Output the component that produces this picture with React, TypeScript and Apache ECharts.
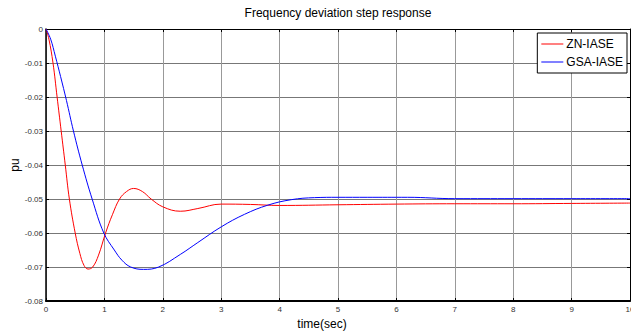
import React, { useEffect, useRef } from "react";
import * as echarts from "echarts";

const titleText = "Frequency deviation step response";
const xName = "time(sec)";
const yName = "pu";
const seriesNames = ["ZN-IASE", "GSA-IASE"];

const xTickLabels = ["0", "1", "2", "3", "4", "5", "6", "7", "8", "9", "10"];
const yTickLabels = ["0", "-0.01", "-0.02", "-0.03", "-0.04", "-0.05", "-0.06", "-0.07", "-0.08"];

const timeZN = [0, 0.05, 0.12, 0.19, 0.26, 0.33, 0.4, 0.5, 0.58, 0.65, 0.72, 0.8, 0.9, 1.02, 1.14, 1.26, 1.38, 1.5, 1.65, 1.8, 2.0, 2.3, 2.6, 3.0, 3.5, 4.0, 5.0, 6.0, 7.0, 8.0, 9.0, 10.0];
const valZN = [0, -0.003, -0.01, -0.02, -0.03, -0.04, -0.05, -0.06, -0.066, -0.0695, -0.0706, -0.07, -0.0665, -0.06, -0.0545, -0.05, -0.0478, -0.0469, -0.0478, -0.05, -0.0523, -0.0536, -0.0528, -0.0515, -0.0516, -0.0519, -0.0517, -0.0515, -0.0514, -0.0514, -0.0513, -0.0512];

const timeGSA = [0, 0.08, 0.16, 0.25, 0.35, 0.47, 0.62, 0.79, 0.99, 1.17, 1.3, 1.45, 1.67, 1.93, 2.3, 2.6, 3.0, 3.4, 3.8, 4.2, 4.6, 5.0, 5.5, 6.19, 7.0, 8.0, 9.0, 10.0];
const valGSA = [0, -0.003, -0.008, -0.014, -0.021, -0.03, -0.04, -0.05, -0.06, -0.065, -0.068, -0.07, -0.0707, -0.07, -0.0663, -0.0628, -0.0582, -0.0545, -0.0518, -0.0502, -0.0496, -0.0495, -0.0495, -0.0495, -0.0499, -0.0499, -0.0499, -0.0499];

const FONT = "Arial, 'Liberation Sans', sans-serif";

function pairs(t: number[], v: number[]) {
  return t.map((x, i) => [x, v[i]]);
}

export default function App() {
  const ref = useRef<HTMLDivElement>(null);
  useEffect(() => {
    if (!ref.current) return;
    const chart = echarts.init(ref.current, undefined, { renderer: "svg" });
    const tickStyle = { show: true, inside: true, length: 3, lineStyle: { color: "#000", width: 1 } };
    chart.setOption({
      animation: false,
      backgroundColor: "#fff",
      title: {
        text: titleText,
        left: 338,
        textAlign: "center",
        top: 7,
        padding: 0,
        textStyle: { fontFamily: FONT, fontSize: 12, fontWeight: "normal", color: "#000" },
      },
      grid: { left: 46, right: 11, top: 29, bottom: 33, containLabel: false },
      legend: {
        data: seriesNames,
        orient: "vertical",
        right: 14,
        top: 33,
        backgroundColor: "#fff",
        borderColor: "#000",
        borderWidth: 1,
        borderRadius: 0,
        padding: [5, 4, 5, 4],
        itemGap: 6,
        itemWidth: 22,
        itemHeight: 1,
        icon: "rect",
        textStyle: { fontFamily: FONT, fontSize: 12, color: "#000", padding: [0, 0, 0, -2] },
      },
      xAxis: [
        {
          type: "value",
          min: 0,
          max: 10,
          interval: 1,
          position: "bottom",
          axisLine: { show: true, onZero: false, lineStyle: { color: "#000", width: 2 } },
          axisTick: tickStyle,
          axisLabel: {
            fontFamily: FONT,
            fontSize: 8,
            color: "#333",
            margin: 4,
            formatter: (v: number) => xTickLabels[Math.round(v)] ?? "",
          },
          splitLine: { show: true, lineStyle: { color: "#999", width: 1 } },
        },
        {
          type: "value",
          min: 0,
          max: 10,
          interval: 1,
          position: "top",
          axisLine: { show: true, onZero: false, lineStyle: { color: "#000", width: 1 } },
          axisTick: tickStyle,
          axisLabel: { show: false },
          splitLine: { show: false },
        },
      ],
      yAxis: [
        {
          type: "value",
          min: -0.08,
          max: 0,
          interval: 0.01,
          position: "left",
          axisLine: { show: true, onZero: false, lineStyle: { color: "#000", width: 1.5 } },
          axisTick: tickStyle,
          axisLabel: {
            fontFamily: FONT,
            fontSize: 8,
            color: "#333",
            margin: 3,
            formatter: (v: number) => yTickLabels[Math.round(-v * 100)] ?? "",
          },
          splitLine: { show: true, lineStyle: { color: "#777", width: 1 } },
        },
        {
          type: "value",
          min: -0.08,
          max: 0,
          interval: 0.01,
          position: "right",
          axisLine: { show: true, onZero: false, lineStyle: { color: "#000", width: 1 } },
          axisTick: tickStyle,
          axisLabel: { show: false },
          splitLine: { show: false },
        },
      ],
      series: [
        {
          name: seriesNames[0],
          type: "line",
          data: pairs(timeZN, valZN),
          smooth: 0.4,
          symbol: "none",
          lineStyle: { color: "#ff0000", width: 1 },
          itemStyle: { color: "#ff0000" },
          z: 3,
        },
        {
          name: seriesNames[1],
          type: "line",
          data: pairs(timeGSA, valGSA),
          smooth: 0.4,
          symbol: "none",
          lineStyle: { color: "#0000ff", width: 1 },
          itemStyle: { color: "#0000ff" },
          z: 3,
        },
      ],
      graphic: [
        {
          type: "text",
          x: 15,
          y: 165,
          rotation: Math.PI / 2,
          style: { text: yName, fontFamily: FONT, fontSize: 12, fill: "#000", align: "center", verticalAlign: "middle" },
        },
        {
          type: "text",
          x: 322,
          y: 324,
          style: { text: xName, fontFamily: FONT, fontSize: 12, fill: "#000", align: "center", verticalAlign: "middle" },
        },
        {
          type: "rect",
          shape: { x: 631, y: 0, width: 10, height: 334 },
          style: { fill: "#fff" },
          z: 100,
        },
      ],
    });
    return () => chart.dispose();
  }, []);
  return <div ref={ref} style={{ position: "absolute", left: 0, top: 0, width: 641, height: 334 }} />;
}
